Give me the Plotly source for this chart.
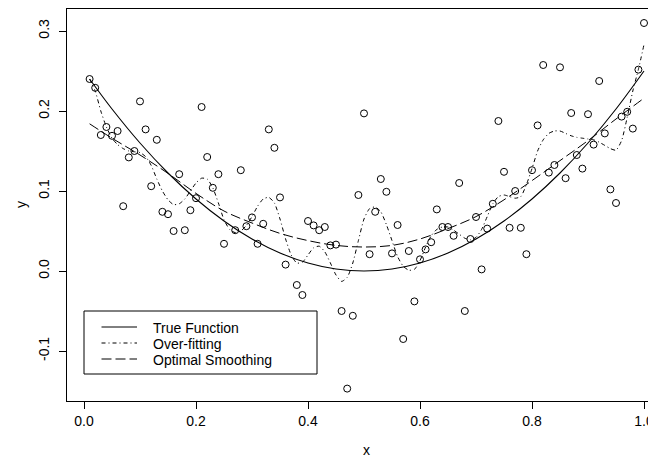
import plotly.graph_objects as go

# ---------------- data ----------------
x_obs = [round(0.01 * i, 2) for i in range(1, 101)]
y_obs = [
    0.240, 0.229, 0.170, 0.180, 0.169, 0.175, 0.081, 0.142, 0.150, 0.212,
    0.177, 0.106, 0.164, 0.074, 0.071, 0.050, 0.121, 0.051, 0.076, 0.091,
    0.205, 0.1425, 0.104, 0.121, 0.034, None, 0.051, 0.126, 0.056, 0.067,
    0.034, 0.059, 0.177, 0.154, 0.092, 0.008, None, -0.0175, -0.030, 0.0625,
    0.057, 0.051, 0.055, 0.032, 0.033, -0.050, -0.147, -0.056, 0.095, 0.197,
    0.021, 0.074, 0.115, 0.099, 0.022, 0.0575, -0.085, 0.025, -0.038, 0.0146,
    0.027, 0.036, 0.077, 0.055, 0.055, 0.044, 0.110, -0.050, 0.040, 0.0675,
    0.002, 0.053, 0.084, 0.1875, 0.124, 0.054, 0.100, 0.054, 0.021, 0.126,
    0.182, 0.2575, 0.123, 0.1325, 0.2546, 0.116, 0.1975, 0.145, 0.128, 0.196,
    0.158, 0.2375, 0.172, 0.102, 0.085, 0.193, 0.199, 0.178, 0.2517, 0.310,
]

x_curve = [0.01, 0.05, 0.10, 0.15, 0.20, 0.25, 0.30, 0.35, 0.40, 0.45, 0.50,
           0.55, 0.60, 0.65, 0.70, 0.75, 0.80, 0.85, 0.90, 0.95, 1.00]
y_true = [0.240, 0.2025, 0.160, 0.1225, 0.090, 0.0625, 0.040, 0.0225, 0.010, 0.0025, 0.0,
          0.0025, 0.010, 0.0225, 0.040, 0.0625, 0.090, 0.1225, 0.160, 0.2025, 0.250]
y_smooth = [0.184, 0.166, 0.145, 0.122, 0.097, 0.075, 0.060, 0.047, 0.038, 0.032, 0.030,
            0.032, 0.040, 0.053, 0.068, 0.089, 0.113, 0.138, 0.163, 0.190, 0.216]

y_overfit = [
    0.240, 0.225, 0.200, 0.180, 0.166, 0.158, 0.153, 0.150, 0.149, 0.148,
    0.143, 0.132, 0.115, 0.100, 0.089, 0.083, 0.084, 0.090, 0.100, 0.110,
    0.116, 0.115, 0.104, 0.085, 0.064, 0.052, 0.048, 0.050, 0.057, 0.068,
    0.081, 0.090, 0.092, 0.085, 0.065, 0.040, 0.020, 0.010, 0.011, 0.020,
    0.029, 0.031, 0.024, 0.010, -0.005, -0.013, -0.008, 0.010, 0.038, 0.065,
    0.078, 0.080, 0.074, 0.058, 0.038, 0.018, 0.006, 0.001, 0.002, 0.013,
    0.030, 0.044, 0.052, 0.055, 0.055, 0.051, 0.046, 0.041, 0.039, 0.042,
    0.052, 0.068, 0.084, 0.093, 0.095, 0.093, 0.091, 0.093, 0.108, 0.128,
    0.150, 0.164, 0.172, 0.175, 0.175, 0.172, 0.169, 0.167, 0.166, 0.165,
    0.164, 0.161, 0.157, 0.153, 0.151, 0.163, 0.192, 0.225, 0.252, 0.283,
]

x_ticks = [0.0, 0.2, 0.4, 0.6, 0.8, 1.0]
x_ticklabels = ["0.0", "0.2", "0.4", "0.6", "0.8", "1.0"]
y_ticks = [-0.1, 0.0, 0.1, 0.2, 0.3]
y_ticklabels = ["-0.1", "0.0", "0.1", "0.2", "0.3"]
legend_labels = ["True Function", "Over-fitting", "Optimal Smoothing"]

# ---------------- styling ----------------
FONT = "Liberation Sans, Arial, Helvetica, sans-serif"
FS = 14
OFF = 8                      # the page body has an 8px margin
W, H = 656 - OFF, 460 - OFF  # figure size so it ends at the window edge
# plot area in window pixels: left 67, top 9, bottom 401, right 656
L, T = 67 - OFF, 9 - OFF
B = 460 - 401
R = 0
DASH_OVER = "4px,3px,1px,3px"
DASH_SMOOTH = "10px,4px"


def px_x(p):  # window pixel -> paper x
    return (p - OFF - L) / (W - L - R)


def px_y(p):  # window pixel -> paper y
    return (H - B - (p - OFF)) / (H - B - T)


fig = go.Figure()
fig.add_trace(go.Scatter(x=x_obs, y=y_obs, mode="markers",
                         marker=dict(symbol="circle-open", size=7, color="black",
                                     line=dict(width=1, color="black")),
                         showlegend=False, hoverinfo="skip"))
fig.add_trace(go.Scatter(x=x_curve, y=y_true, mode="lines",
                         line=dict(color="black", width=1.1, shape="spline"),
                         showlegend=False))
fig.add_trace(go.Scatter(x=x_obs, y=y_overfit, mode="lines",
                         line=dict(color="black", width=1, dash=DASH_OVER, shape="spline", smoothing=0.6),
                         showlegend=False))
fig.add_trace(go.Scatter(x=x_curve, y=y_smooth, mode="lines",
                         line=dict(color="black", width=1, dash=DASH_SMOOTH, shape="spline"),
                         showlegend=False))

# legend drawn by hand (box, line samples, text)
shapes = [dict(type="rect", xref="paper", yref="paper",
               x0=px_x(84), x1=px_x(317), y0=px_y(374), y1=px_y(311),
               line=dict(color="black", width=1), fillcolor="white", layer="above")]
annotations = []
rows = [327, 343, 359]
dashes = ["solid", DASH_OVER, DASH_SMOOTH]
for r, d, lab in zip(rows, dashes, legend_labels):
    shapes.append(dict(type="line", xref="paper", yref="paper",
                       x0=px_x(101.5), x1=px_x(137), y0=px_y(r), y1=px_y(r),
                       line=dict(color="black", width=1, dash=d), layer="above"))
    annotations.append(dict(xref="paper", yref="paper", x=px_x(151), y=px_y(r + 1),
                            text=lab, showarrow=False, xanchor="left", yanchor="middle",
                            font=dict(family=FONT, size=FS, color="black")))

annotations.append(dict(xref="paper", yref="paper", x=px_x(366.7), y=px_y(459),
                        text="x", showarrow=False, xanchor="center", yanchor="bottom",
                        borderpad=0,
                        font=dict(family=FONT, size=FS, color="black")))
annotations.append(dict(xref="paper", yref="paper", x=px_x(21), y=px_y(205),
                        text="y", showarrow=False, xanchor="center", yanchor="middle",
                        textangle=-90,
                        font=dict(family=FONT, size=FS, color="black")))

fig.update_layout(
    width=W, height=H,
    margin=dict(l=L, r=R, t=T, b=B),
    paper_bgcolor="white", plot_bgcolor="white",
    font=dict(family=FONT, size=FS, color="black"),
    shapes=shapes, annotations=annotations, showlegend=False,
    xaxis=dict(range=[(67 - 84) / 560, (656 - 84) / 560],
               tickvals=x_ticks, ticktext=x_ticklabels,
               showgrid=False, zeroline=False,
               showline=True, linecolor="black", linewidth=1, mirror=True,
               ticks="outside", ticklen=7, tickcolor="black", tickwidth=1,
               tickfont=dict(family=FONT, size=FS, color="black")),
    yaxis=dict(range=[(271 - 401) / 800, (271 - 9) / 800],
               tickvals=y_ticks, ticktext=y_ticklabels,
               showgrid=False, zeroline=False,
               showline=True, linecolor="black", linewidth=1,
               ticks="outside", ticklen=7, tickcolor="black", tickwidth=1,
               tickangle=-90, ticklabelstandoff=4,
               tickfont=dict(family=FONT, size=FS, color="black")),
)

fig.write_html("out.html")
